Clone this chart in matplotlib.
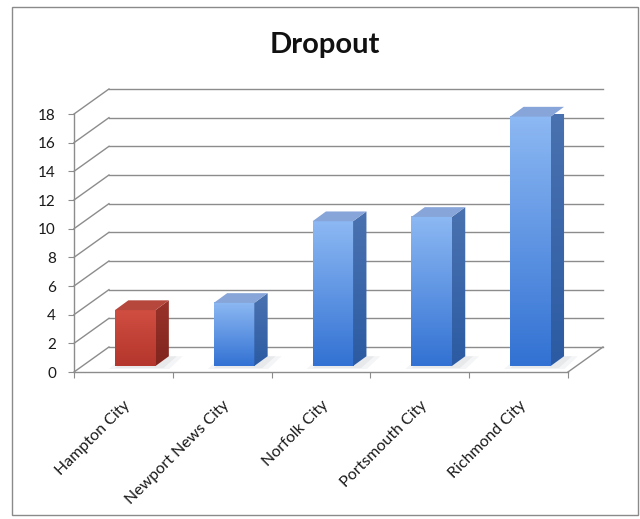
import numpy as np
import matplotlib.pyplot as plt
from matplotlib.patches import Polygon, Rectangle
from matplotlib.colors import LinearSegmentedColormap

cities = ["Hampton City", "Newport News City", "Norfolk City",
          "Portsmouth City", "Richmond City"]
dropout = [3.9, 4.4, 10.1, 10.4, 17.4]
highlighted = ["Hampton City"]
y_ticks = list(range(0, 20, 2))

plt.rcParams['font.family'] = ['Lato', 'DejaVu Sans']

# oblique offset of the back wall (axis units)
DEPTH_X = 0.354
DEPTH_Y = 1.745
# bar placement inside the floor
BAR_X_SHIFT = 0.12
BAR_Y_SHIFT = 0.42
BAR_WIDTH = 0.41
BAR_DX = 0.135
BAR_DY = 0.68

GRID = "#8c8c8c"
STYLES = {
    False: dict(front=["#3372d3", "#8cb8f3"], side=["#2c5ba3", "#4a72b0"],
                top="#87a5d8"),
    True: dict(front=["#b4362c", "#d04d41"], side=["#80251e", "#99322a"],
               top="#b5473d"),
}

fig = plt.figure(figsize=(6.4, 5.19), dpi=100)
fig.patches.append(Rectangle((12 / 640, 4 / 519), 626 / 640, 508 / 519,
                             transform=fig.transFigure, fill=False,
                             edgecolor="#8a8a8a", lw=1.0))

ax = fig.add_axes([74 / 640, 147 / 519, 494 / 640, 258 / 519])

# back wall gridlines and the left wall diagonals
for y in y_ticks:
    ax.plot([DEPTH_X, len(cities) + DEPTH_X], [y + DEPTH_Y, y + DEPTH_Y],
            color=GRID, lw=1.0, clip_on=False, zorder=1)
    ax.plot([0, DEPTH_X], [y, y + DEPTH_Y], color=GRID, lw=1.0,
            clip_on=False, zorder=1)
# right edge of the floor
ax.plot([len(cities), len(cities) + DEPTH_X], [0, DEPTH_Y], color=GRID,
        lw=1.0, clip_on=False, zorder=1)

for i, (city, val) in enumerate(zip(cities, dropout)):
    st = STYLES[city in highlighted]
    x0 = i + 0.5 - BAR_WIDTH / 2 + BAR_X_SHIFT
    x1 = x0 + BAR_WIDTH
    y0 = BAR_Y_SHIFT
    y1 = y0 + val

    # soft floor shadow
    for k, a in enumerate([0.10, 0.14]):
        grow = 0.06 * (1 - k)
        ax.add_patch(Polygon([(x0 - grow, y0 - 0.15 - grow),
                              (x1 + 0.08 + grow, y0 - 0.15 - grow),
                              (x1 + BAR_DX + 0.08 + grow, y0 + BAR_DY),
                              (x0 + BAR_DX - grow, y0 + BAR_DY)],
                             closed=True, facecolor="#9aa0aa", alpha=a,
                             edgecolor="none", zorder=2, clip_on=False))

    grad = np.linspace(0, 1, 64).reshape(-1, 1)
    cmap = LinearSegmentedColormap.from_list("face", st["front"])
    ax.imshow(grad, extent=[x0, x1, y0, y1], origin="lower", cmap=cmap,
              aspect="auto", zorder=3, clip_on=False, interpolation="bilinear")
    side = ax.imshow(grad, extent=[x1, x1 + BAR_DX, y0, y1 + BAR_DY],
                     origin="lower",
                     cmap=LinearSegmentedColormap.from_list("side", st["side"]),
                     aspect="auto", zorder=3, interpolation="bilinear")
    side_shape = Polygon([(x1, y0), (x1 + BAR_DX, y0 + BAR_DY),
                          (x1 + BAR_DX, y1 + BAR_DY), (x1, y1)],
                         closed=True, facecolor="none", edgecolor="none",
                         transform=ax.transData)
    ax.add_patch(side_shape)
    side.set_clip_path(side_shape)
    ax.add_patch(Polygon([(x0, y1), (x1, y1), (x1 + BAR_DX, y1 + BAR_DY),
                          (x0 + BAR_DX, y1 + BAR_DY)],
                         closed=True, facecolor=st["top"], edgecolor="none",
                         zorder=3, clip_on=False))

ax.set_xlim(0, len(cities))
ax.set_ylim(0, 18)
ax.set_facecolor("none")
for s in ["top", "right"]:
    ax.spines[s].set_visible(False)
for s in ["left", "bottom"]:
    ax.spines[s].set_color(GRID)
    ax.spines[s].set_linewidth(1.0)

ax.set_yticks(y_ticks)
ax.set_yticklabels([str(t) for t in y_ticks])
ax.tick_params(axis="y", length=4, color=GRID, pad=9, labelsize=11,
               labelcolor="#1a1a1a")

ax.set_xticks(range(len(cities) + 1))
ax.set_xticklabels([])
ax.set_xticks([i + 0.5 for i in range(len(cities))], minor=True)
ax.set_xticklabels(cities, minor=True, rotation=45, ha="right", va="top",
                   rotation_mode="anchor")
ax.tick_params(axis="x", which="major", length=4, color=GRID)
ax.tick_params(axis="x", which="minor", length=0, pad=19, labelsize=11.5,
               labelcolor="#1a1a1a")

fig.text(325 / 640, 1 - 53 / 519, "Dropout", ha="center", va="baseline",
         fontsize=21, fontweight="bold", color="#111111")

fig.savefig("out.png", dpi=100)
